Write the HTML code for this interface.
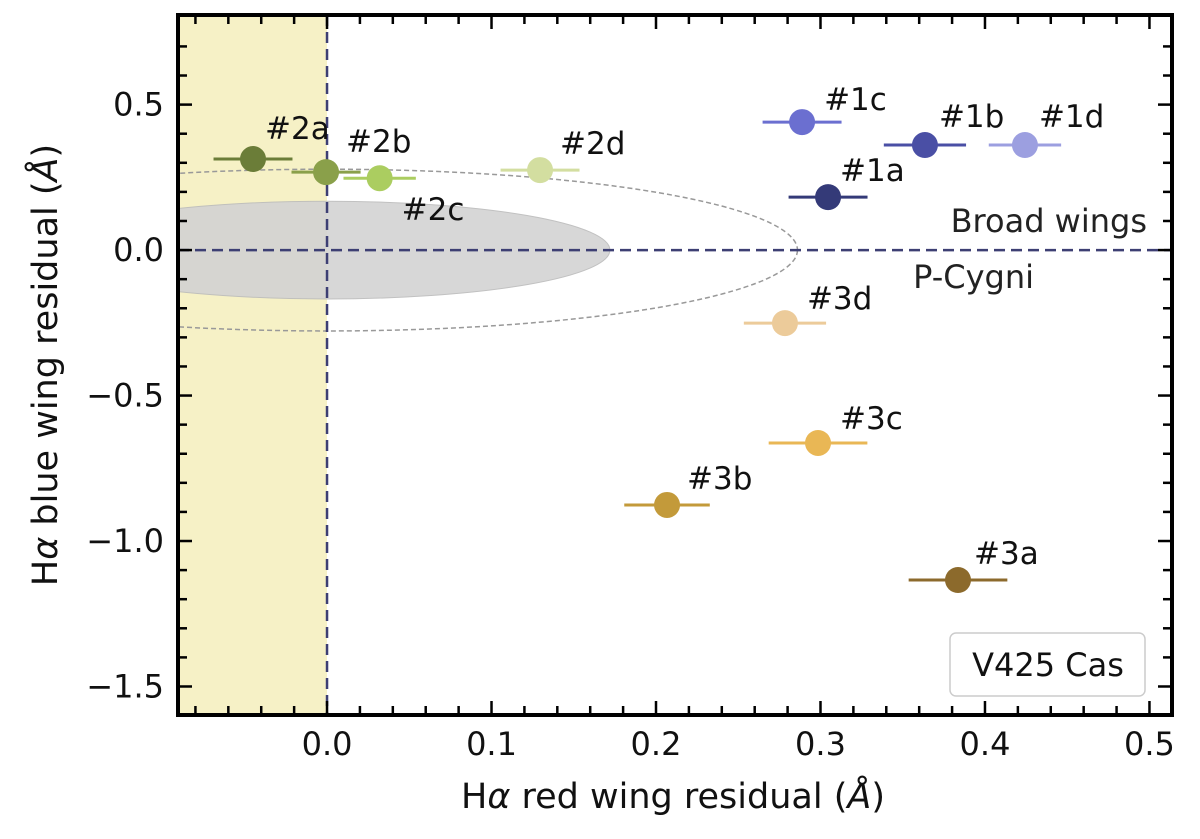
<!DOCTYPE html>
<html><head><meta charset="utf-8"><style>
body{margin:0;background:#fff;}
svg{display:block;font-family:"DejaVu Sans","Liberation Sans",sans-serif;}
</style></head><body>
<svg id="chart" width="1200" height="839" viewBox="0 0 1200 839">
<defs><clipPath id="clip"><rect x="178" y="15" width="994" height="700"/></clipPath></defs>
<g id="plot" clip-path="url(#clip)"></g>
<g id="axes"></g>
</svg>
<script>
const labels=["#1a","#1b","#1c","#1d","#2a","#2b","#2c","#2d","#3a","#3b","#3c","#3d"];
const xVals=[0.3046,0.3635,0.2888,0.4243,-0.045,-0.0006,0.032,0.1295,0.3836,0.2067,0.2985,0.2784];
const yVals=[0.182,0.361,0.44,0.361,0.313,0.268,0.247,0.275,-1.134,-0.876,-0.663,-0.251];
const xErr=[0.024,0.025,0.024,0.022,0.024,0.021,0.022,0.024,0.03,0.026,0.03,0.025];
const colors=["#343a78","#4a4fa5","#6b6fd0","#9c9fe0","#6b7d38","#8aa04a","#abcd60","#d3dea0","#8c6a2c","#c39a3a","#e9b755","#eccb9a"];
const labelDx=[12,14,22,14,12,20,22,20,16,20,22,22];
const labelDy=[-16,-18,-12,-18,-20,-20,42,-16,-16,-16,-14,-14];
const xTicks=[0,0.1,0.2,0.3,0.4,0.5];
const xTickLabels=["0.0","0.1","0.2","0.3","0.4","0.5"];
const yTicks=[0.5,0,-0.5,-1,-1.5];
const yTickLabels=["0.5","0.0","\u22120.5","\u22121.0","\u22121.5"];
const X0=178,X1=1172,Y0=15,Y1=715,xmin=-0.0906,xmax=0.5137,ymin=-1.598,ymax=0.808;
const sx=v=>X0+(v-xmin)/(xmax-xmin)*(X1-X0);
const sy=v=>Y1-(v-ymin)/(ymax-ymin)*(Y1-Y0);
const NS="http://www.w3.org/2000/svg";
function mk(p,t,a){const e=document.createElementNS(NS,t);for(const k in a)e.setAttribute(k,a[k]);p.appendChild(e);return e;}
const plot=document.getElementById('plot'),axes=document.getElementById('axes');
let e;
e=mk(plot,'rect',{x:sx(xmin),y:Y0,width:sx(0)-sx(xmin),height:Y1-Y0,fill:'#f6f1c6'});


e=mk(plot,'ellipse',{cx:sx(0),cy:sy(0),rx:sx(0.172)-sx(0),ry:sy(0)-sy(0.168),fill:'#d3d3d3',stroke:'#bbb','stroke-width':1,opacity:0.9});


e=mk(plot,'ellipse',{cx:sx(0),cy:sy(0),rx:sx(0.286)-sx(0),ry:sy(0)-sy(0.278),fill:'none',stroke:'#999','stroke-width':1.5,'stroke-dasharray':'5,3'});


e=mk(plot,'line',{x1:sx(0),x2:sx(0),y1:Y0,y2:Y1,stroke:'#3d3f73','stroke-width':2.5,'stroke-dasharray':'11,6'});


e=mk(plot,'line',{x1:X0,x2:X1,y1:sy(0),y2:sy(0),stroke:'#3d3f73','stroke-width':2.5,'stroke-dasharray':'11,6'});


for(let i=0;i<labels.length;i++){
 const cx=sx(xVals[i]),cy=sy(yVals[i]);
 e=mk(plot,'line',{x1:sx(xVals[i]-xErr[i]),x2:sx(xVals[i]+xErr[i]),y1:cy,y2:cy,stroke:colors[i],'stroke-width':3});
 
 
 e=mk(plot,'circle',{cx:cx,cy:cy,r:13,fill:colors[i]});
 
 
 e=mk(plot,'text',{x:cx+labelDx[i],y:cy+labelDy[i],'font-size':31,fill:'#111'});
 e.textContent=labels[i];
 
 
}
e=mk(plot,'text',{x:1147,y:232,'font-size':32,'text-anchor':'end',fill:'#222'});e.textContent='Broad wings';


e=mk(plot,'text',{x:1034,y:288,'font-size':32,'text-anchor':'end',fill:'#222'});e.textContent='P-Cygni';


e=mk(axes,'rect',{x:950,y:633,width:195,height:63,rx:6,fill:'#fff',stroke:'#ccc','stroke-width':1.5});


e=mk(axes,'text',{x:1048,y:676,'font-size':32,'text-anchor':'middle',fill:'#111'});e.textContent='V425 Cas';


function tick(x1,y1,x2,y2){mk(axes,'line',{x1,y1,x2,y2,stroke:'#000','stroke-width':2.5});}
for(let v=-0.08;v<=0.51;v+=0.02){const x=sx(v),maj=Math.abs(v*10-Math.round(v*10))<1e-6,L=maj?14:9;tick(x,Y1,x,Y1-L);tick(x,Y0,x,Y0+L);}
for(let v=-1.5;v<=0.8;v+=0.1){const y=sy(v),maj=Math.abs(v*2-Math.round(v*2))<1e-6,L=maj?14:9;tick(X0,y,X0+L,y);tick(X1,y,X1-L,y);}
xTicks.forEach((v,i)=>{e=mk(axes,'text',{x:sx(v),y:755,'font-size':32,'text-anchor':'middle',fill:'#111'});e.textContent=xTickLabels[i];

});
yTicks.forEach((v,i)=>{e=mk(axes,'text',{x:164,y:sy(v)+11,'font-size':32,'text-anchor':'end',fill:'#111'});e.textContent=yTickLabels[i];

});
e=mk(axes,'rect',{x:X0,y:Y0,width:X1-X0,height:Y1-Y0,fill:'none',stroke:'#000','stroke-width':4});


e=mk(axes,'text',{x:673,y:808,'font-size':35,'text-anchor':'middle',fill:'#111'});
e.innerHTML='H<tspan font-style="italic">α</tspan> red wing residual (<tspan font-style="italic">Å</tspan>)';


e=mk(axes,'text',{x:0,y:0,'font-size':35,'text-anchor':'middle',fill:'#111',transform:'translate(57,365) rotate(-90)'});
e.innerHTML='H<tspan font-style="italic">α</tspan> blue wing residual (<tspan font-style="italic">Å</tspan>)';


</script>
</body></html>
